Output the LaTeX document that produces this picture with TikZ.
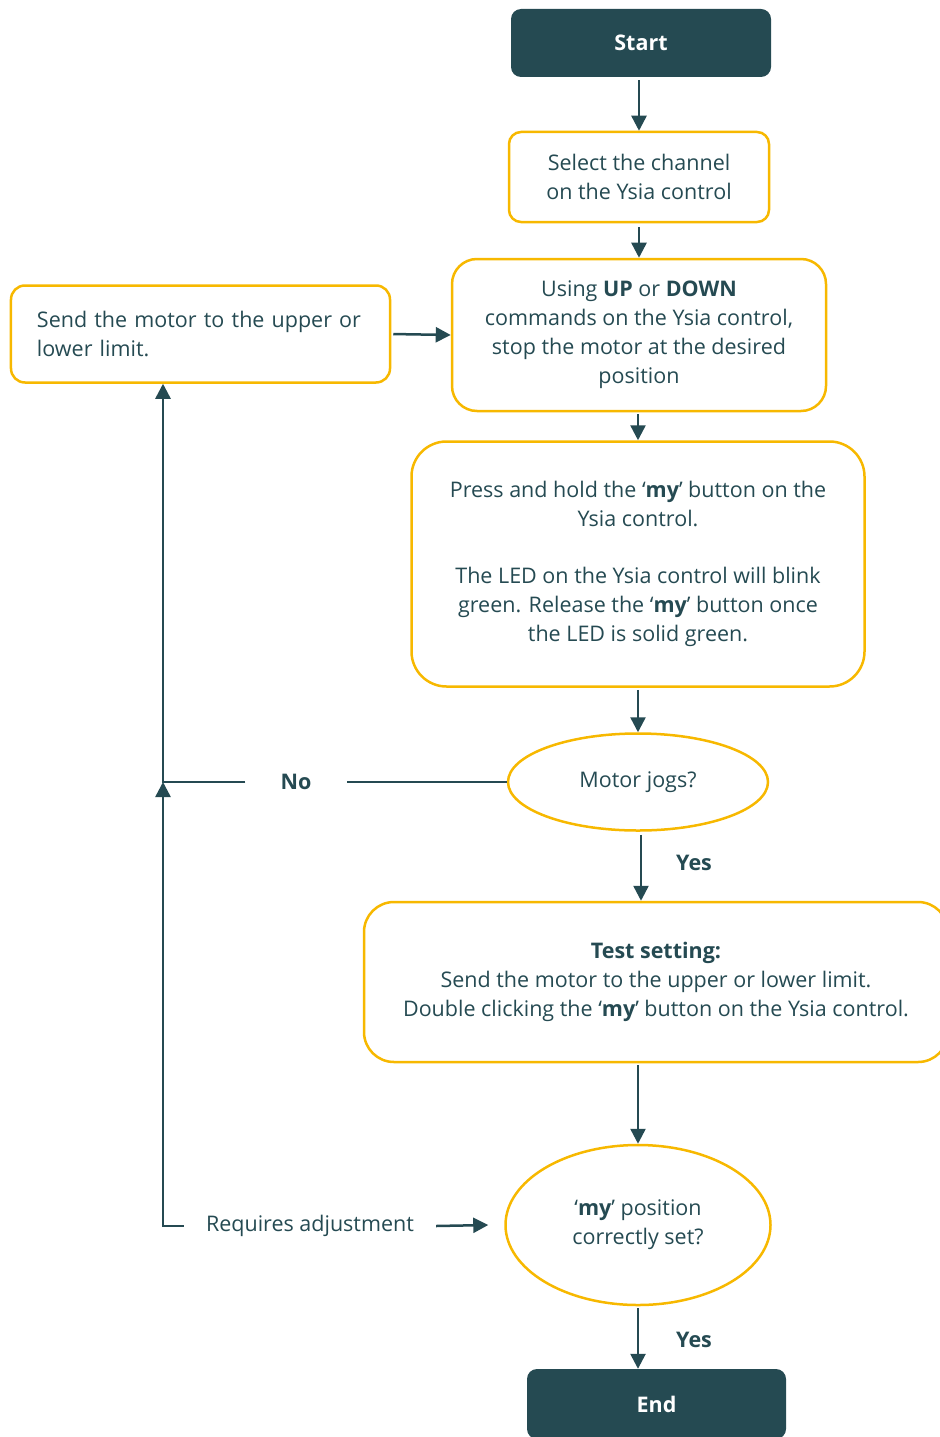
\documentclass[tikz,border=0pt]{standalone}
\usepackage{fontspec}
\setmainfont{Open Sans}
\usetikzlibrary{shapes.geometric,arrows.meta}
\definecolor{petrol}{HTML}{254A52}
\definecolor{jaune}{HTML}{F7B800}
\newcommand{\taille}{\fontsize{21.5bp}{29bp}\selectfont}
\tikzset{
  terminal/.style={rectangle, rounded corners=10bp, fill=petrol, text=white, font=\taille\bfseries,
    minimum width=260bp, minimum height=68bp},
  boite/.style={rectangle, draw=jaune, line width=2.5bp, align=center, text=petrol},
  ovale/.style={ellipse, draw=jaune, line width=2.5bp, align=center, text=petrol},
  fleche/.style={draw=petrol, line width=2.5bp, -{Triangle[length=15bp,width=15bp]}},
  trait/.style={draw=petrol, line width=2.5bp},
  etiquette/.style={text=petrol, font=\taille\bfseries, inner xsep=0bp}
}
\begin{document}
\begin{tikzpicture}[x=1bp, y=-1bp, font=\taille]
  \useasboundingbox (0,0) rectangle (939,1437);

  %boites
  \node[terminal] (start) at (641,43) {Start};
  \node[boite, minimum width=260bp, minimum height=90bp, rounded corners=12bp] (canal) at (639,177)
    {Select the channel\\on the Ysia control};
  \node[boite, minimum width=374bp, minimum height=152bp, rounded corners=25bp] (position) at (639,335)
    {Using \textbf{UP} or \textbf{DOWN}\\commands on the Ysia control,\\stop the motor at the desired\\position};
  \node[boite, minimum width=379bp, minimum height=97bp, rounded corners=14bp, text width=327bp, align=left] (limite) at (200.5,334)
    {Send the motor to the upper or\\lower limit.};
  \node[boite, minimum width=453bp, minimum height=245bp, rounded corners=35bp] (bouton) at (638,564)
    {Press and hold the `\textbf{my}' button on the\\Ysia control.\\[28bp]The LED on the Ysia control will blink\\green. Release the `\textbf{my}' button once\\the LED is solid green.};
  \node[ovale, minimum width=260bp, minimum height=97bp] (jog) at (638,782) {Motor jogs?};
  \node[boite, minimum width=584bp, minimum height=160bp, rounded corners=30bp] (test) at (656,982)
    {\textbf{Test setting:}\\Send the motor to the upper or lower limit.\\Double clicking the `\textbf{my}' button on the Ysia control.};
  \node[ovale, minimum width=265bp, minimum height=160bp] (regle) at (638,1225)
    {`\textbf{my}' position\\correctly set?};
  \node[terminal, minimum width=259bp, minimum height=70bp] (fin) at (656.5,1404) {End};

  %textes
  \node[etiquette, inner xsep=35bp] (non) at (296,782) {No};
  \node[etiquette] (oui) at (694,863) {Yes};
  \node[etiquette] (ouibis) at (694,1340) {Yes};
  \node[text=petrol, inner xsep=22bp] (ajust) at (310,1226) {Requires adjustment};
  \coordinate (coin) at (163,782);
  \coordinate (bas) at (163,1226);

  %fleches
  \draw[fleche, shorten <=3bp] (start.south -| canal.north) -- (canal.north);
  \draw[fleche, shorten <=4bp] (canal.south) -- (position.north);
  \draw[fleche, shorten <=2bp] (limite.east) -- (position.west);
  \draw[fleche, shorten <=2bp] (position.south -| bouton.north) -- (bouton.north);
  \draw[fleche, shorten <=2bp] (bouton.south) -- (jog.north);
  \draw[fleche, shorten <=3bp] ([xshift=3bp]jog.south) -- ([xshift=3bp]jog.south |- test.north);
  \draw[fleche, shorten <=2bp] (test.south -| regle.north) -- (regle.north);
  \draw[fleche, shorten <=2bp] (regle.south) -- (regle.south |- fin.north);
  \draw[trait] (jog.west) -- (non.east);
  \draw[fleche] (non.west) -- (coin) -- (coin |- limite.south);
  \draw[fleche] (ajust.west) -- (bas) -- (coin);
  \draw[fleche] (ajust.east) -- ([xshift=-16bp]regle.west);
\end{tikzpicture}
\end{document}
